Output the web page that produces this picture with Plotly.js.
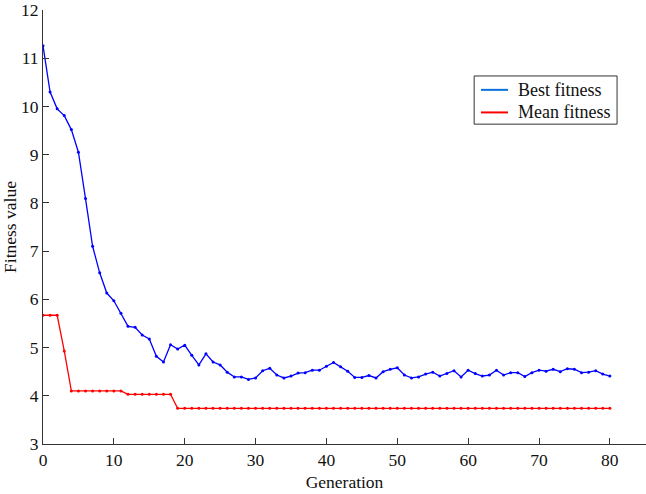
<!DOCTYPE html>
<html>
<head>
<meta charset="utf-8">
<script src="https://cdn.plot.ly/plotly-3.0.1.min.js"></script>
<style>
  html, body { margin: 0; padding: 0; background: #fff; }
  #plot { width: 646px; height: 494px; }
</style>
</head>
<body>
<div id="plot"></div>
<script>
// generations 0..80
let generation = [];
for (let g = 0; g <= 80; g++) generation.push(g);

let bestFitness = [
  11.26, 10.30, 9.95, 9.81, 9.52, 9.05, 8.09, 7.10, 6.55, 6.13,
  5.97, 5.71, 5.44, 5.42, 5.26, 5.18, 4.82, 4.70, 5.06, 4.97,
  5.05, 4.84, 4.64, 4.87, 4.70, 4.64, 4.49, 4.39, 4.39, 4.34,
  4.37, 4.52, 4.57, 4.43, 4.37, 4.41, 4.47, 4.48, 4.53, 4.53,
  4.61, 4.69, 4.60, 4.51, 4.38, 4.38, 4.42, 4.37, 4.50, 4.55,
  4.58, 4.43, 4.37, 4.39, 4.45, 4.49, 4.41, 4.46, 4.52, 4.39,
  4.53, 4.46, 4.41, 4.43, 4.53, 4.43, 4.48, 4.48, 4.40, 4.48,
  4.53, 4.51, 4.55, 4.50, 4.56, 4.55, 4.48, 4.49, 4.52, 4.45,
  4.41
];

let meanFitness = [
  5.67, 5.67, 5.67, 4.93, 4.10, 4.10, 4.10, 4.10, 4.10, 4.10,
  4.10, 4.10, 4.03, 4.03, 4.03, 4.03, 4.03, 4.03, 4.03, 3.74,
  3.74, 3.74, 3.74, 3.74, 3.74, 3.74, 3.74, 3.74, 3.74, 3.74,
  3.74, 3.74, 3.74, 3.74, 3.74, 3.74, 3.74, 3.74, 3.74, 3.74,
  3.74, 3.74, 3.74, 3.74, 3.74, 3.74, 3.74, 3.74, 3.74, 3.74,
  3.74, 3.74, 3.74, 3.74, 3.74, 3.74, 3.74, 3.74, 3.74, 3.74,
  3.74, 3.74, 3.74, 3.74, 3.74, 3.74, 3.74, 3.74, 3.74, 3.74,
  3.74, 3.74, 3.74, 3.74, 3.74, 3.74, 3.74, 3.74, 3.74, 3.74,
  3.74
];

let seriesNames = ["Best fitness", "Mean fitness"];
let xTicks = [0, 10, 20, 30, 40, 50, 60, 70, 80];
let yTicks = [3, 4, 5, 6, 7, 8, 9, 10, 11, 12];

let font = "Liberation Serif, Times New Roman, serif";

let traces = [
  {
    x: generation, y: bestFitness,
    name: seriesNames[0],
    mode: "lines+markers",
    line: { color: "#0000ff", width: 1.3 },
    marker: { color: "#0000ff", size: 3 }
  },
  {
    x: generation, y: meanFitness,
    name: seriesNames[1],
    mode: "lines+markers",
    line: { color: "#ff0000", width: 1.3 },
    marker: { color: "#ff0000", size: 3 }
  }
];

// legend drawn by hand (matlab-style compact box), paper coords
let lgX0 = 0.715, lgX1 = 0.952, lgY0 = 0.737, lgY1 = 0.848;
let lgRows = [0.816, 0.764];
let lgColors = ["#0a72dc", "#ff0000"];

let shapes = [{
  type: "rect", xref: "paper", yref: "paper",
  x0: lgX0, x1: lgX1, y0: lgY0, y1: lgY1,
  fillcolor: "#fff", line: { color: "#333", width: 1 }
}];
let annotations = [];
lgRows.forEach((yy, i) => {
  shapes.push({
    type: "line", xref: "paper", yref: "paper",
    x0: 0.7264, x1: 0.7711, y0: yy, y1: yy,
    line: { color: lgColors[i], width: 2 }
  });
  annotations.push({
    xref: "paper", yref: "paper", x: 0.784, y: yy,
    xanchor: "left", yanchor: "middle", showarrow: false,
    text: seriesNames[i],
    font: { family: font, size: 18, color: "#111" }
  });
});

let axisCommon = {
  showgrid: false,
  zeroline: false,
  showline: true,
  linecolor: "#333",
  linewidth: 1,
  ticks: "inside",
  ticklen: 6,
  tickcolor: "#333",
  tickfont: { family: font, size: 17.5, color: "#111" },
  fixedrange: true
};

let layout = {
  width: 646,
  height: 494,
  margin: { l: 43, r: 0, t: 10, b: 50 },
  paper_bgcolor: "#fff",
  plot_bgcolor: "#fff",
  font: { family: font, size: 17.5, color: "#111" },
  xaxis: Object.assign({}, axisCommon, {
    range: [0, 85.1],
    tickvals: xTicks,
    title: { text: "Generation", font: { family: font, size: 17.5 }, standoff: 6 }
  }),
  yaxis: Object.assign({}, axisCommon, {
    range: [3, 12],
    tickvals: yTicks,
    title: { text: "Fitness value", font: { family: font, size: 17.5 }, standoff: 6 }
  }),
  shapes: shapes,
  annotations: annotations,
  showlegend: false
};

Plotly.newPlot("plot", traces, layout, { displayModeBar: false, staticPlot: true });
</script>
</body>
</html>
